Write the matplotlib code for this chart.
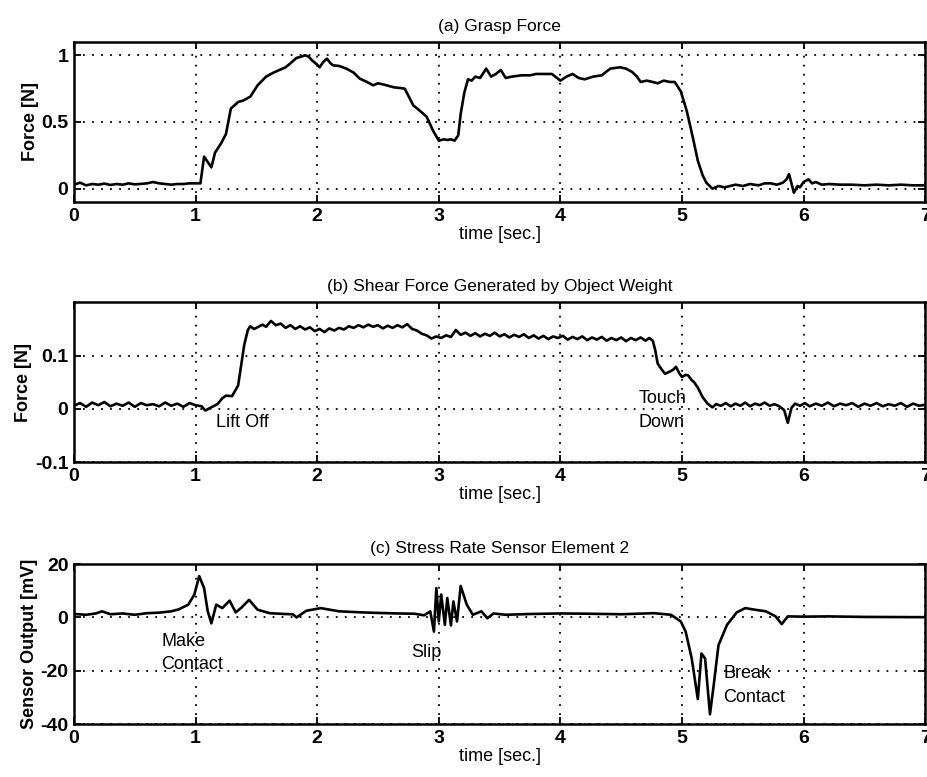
#Grasp / shear / stress-rate traces (3 stacked panels)

import numpy as np
import matplotlib
matplotlib.use('Agg')
import matplotlib.pyplot as plt

plt.rcParams['font.family'] = ['Liberation Sans', 'DejaVu Sans']

#Panel (a) grasp force [N]
t_a = [0.0, 0.05, 0.1, 0.15, 0.2, 0.25, 0.3, 0.35, 0.4, 0.45, 0.5, 0.55, 0.6, 0.65, 0.7, 0.75, 0.8, 0.85, 0.9, 0.95, 1.0, 1.04,
       1.07, 1.1, 1.13, 1.16, 1.21, 1.25, 1.29, 1.35, 1.39, 1.45, 1.51, 1.58, 1.64, 1.69, 1.74, 1.78, 1.83, 1.87, 1.9, 1.93, 1.96,
       2.0, 2.02, 2.05, 2.08, 2.11, 2.13, 2.18, 2.24, 2.3, 2.35, 2.41, 2.46, 2.5, 2.55, 2.63, 2.68, 2.72, 2.79, 2.85, 2.9, 2.95,
       3.0, 3.04, 3.07, 3.1, 3.13, 3.16, 3.18, 3.21, 3.24, 3.27, 3.3, 3.34, 3.39, 3.43, 3.47, 3.51, 3.55, 3.6, 3.68, 3.75, 3.8,
       3.87, 3.93, 4.0, 4.05, 4.1, 4.15, 4.2, 4.27, 4.34, 4.41, 4.49, 4.54, 4.59, 4.63, 4.66, 4.71, 4.76, 4.8, 4.85, 4.9, 4.94,
       4.99, 5.04, 5.09, 5.13, 5.17, 5.2, 5.25, 5.3, 5.35, 5.44, 5.5, 5.56, 5.63, 5.68, 5.73, 5.78, 5.83, 5.86, 5.88, 5.9, 5.92,
       5.95, 5.97, 6.0, 6.04, 6.07, 6.1, 6.15, 6.21, 6.3, 6.4, 6.5, 6.6, 6.7, 6.8, 6.9, 7.0]
f_a = [0.03, 0.045, 0.025, 0.035, 0.03, 0.038, 0.028, 0.035, 0.03, 0.04, 0.032, 0.036, 0.04, 0.05, 0.04, 0.035, 0.03, 0.035, 0.035, 0.04, 0.04, 0.04,
       0.24, 0.2, 0.16, 0.27, 0.34, 0.41, 0.6, 0.65, 0.66, 0.69, 0.775, 0.84, 0.87, 0.89, 0.91, 0.94, 0.98, 0.99, 1.0, 0.99, 0.96,
       0.93, 0.91, 0.95, 0.975, 0.94, 0.925, 0.92, 0.9, 0.87, 0.825, 0.8, 0.775, 0.79, 0.78, 0.76, 0.755, 0.75, 0.625, 0.58, 0.54, 0.44,
       0.36, 0.37, 0.365, 0.37, 0.36, 0.4, 0.56, 0.72, 0.82, 0.81, 0.84, 0.83, 0.9, 0.84, 0.86, 0.89, 0.83, 0.84, 0.85, 0.85, 0.86,
       0.86, 0.86, 0.81, 0.84, 0.86, 0.83, 0.82, 0.84, 0.85, 0.9, 0.91, 0.9, 0.875, 0.84, 0.8, 0.81, 0.8, 0.79, 0.81, 0.8, 0.8,
       0.73, 0.58, 0.38, 0.21, 0.1, 0.045, 0.0, 0.02, 0.01, 0.03, 0.02, 0.035, 0.025, 0.04, 0.04, 0.03, 0.045, 0.07, 0.11, 0.04, -0.03,
       0.02, 0.01, 0.05, 0.07, 0.04, 0.05, 0.03, 0.035, 0.03, 0.03, 0.025, 0.03, 0.025, 0.03, 0.025, 0.025]

#Panel (b) shear force [N]
t_b = [0.0, 0.05, 0.1, 0.15, 0.2, 0.25, 0.3, 0.35, 0.4, 0.45, 0.5, 0.55, 0.6, 0.65, 0.7, 0.75, 0.8, 0.85, 0.9, 0.95, 1.0, 1.05,
       1.08, 1.12, 1.18, 1.22, 1.25, 1.3, 1.35, 1.38, 1.4, 1.43, 1.45, 1.48, 1.5, 1.55, 1.58, 1.62, 1.66, 1.7, 1.74, 1.78, 1.82,
       1.86, 1.9, 1.94, 1.98, 2.02, 2.06, 2.1, 2.14, 2.18, 2.22, 2.26, 2.3, 2.34, 2.38, 2.42, 2.46, 2.5, 2.54, 2.58, 2.62, 2.66,
       2.7, 2.74, 2.78, 2.82, 2.86, 2.9, 2.94, 2.98, 3.02, 3.06, 3.1, 3.14, 3.18, 3.22, 3.26, 3.3, 3.34, 3.38, 3.42, 3.46, 3.5,
       3.54, 3.58, 3.62, 3.66, 3.7, 3.74, 3.78, 3.82, 3.86, 3.9, 3.94, 3.98, 4.02, 4.06, 4.1, 4.14, 4.18, 4.22, 4.26, 4.3, 4.34,
       4.38, 4.42, 4.46, 4.5, 4.54, 4.58, 4.62, 4.66, 4.7, 4.73, 4.76, 4.78, 4.8, 4.83, 4.86, 4.9, 4.93, 4.95, 4.98, 5.0, 5.03,
       5.05, 5.08, 5.1, 5.13, 5.17, 5.21, 5.25, 5.28, 5.32, 5.36, 5.4, 5.44, 5.48, 5.52, 5.56, 5.6, 5.64, 5.68, 5.72, 5.76, 5.8,
       5.84, 5.87, 5.9, 5.93, 5.97, 6.01, 6.05, 6.1, 6.15, 6.2, 6.25, 6.3, 6.35, 6.4, 6.45, 6.5, 6.55, 6.6, 6.65, 6.7, 6.75,
       6.8, 6.85, 6.9, 6.95, 7.0]
f_b = [0.006, 0.011, 0.004, 0.012, 0.007, 0.013, 0.005, 0.010, 0.006, 0.012, 0.004, 0.011, 0.007, 0.009, 0.005, 0.012, 0.006, 0.010, 0.004, 0.011, 0.007, 0.005,
       -0.003, 0.002, 0.009, 0.020, 0.025, 0.024, 0.044, 0.090, 0.120, 0.148, 0.155, 0.150, 0.152, 0.158, 0.154, 0.165, 0.157, 0.160, 0.152, 0.157, 0.150,
       0.155, 0.149, 0.153, 0.146, 0.150, 0.144, 0.151, 0.147, 0.152, 0.149, 0.155, 0.152, 0.157, 0.153, 0.158, 0.154, 0.157, 0.151, 0.156, 0.152, 0.157,
       0.153, 0.159, 0.150, 0.147, 0.141, 0.138, 0.132, 0.136, 0.133, 0.138, 0.135, 0.148, 0.139, 0.143, 0.137, 0.142, 0.136, 0.141, 0.137, 0.143, 0.136,
       0.140, 0.134, 0.139, 0.135, 0.140, 0.133, 0.138, 0.132, 0.137, 0.131, 0.136, 0.133, 0.137, 0.130, 0.135, 0.131, 0.136, 0.129, 0.134, 0.130, 0.135,
       0.128, 0.133, 0.129, 0.134, 0.127, 0.133, 0.129, 0.134, 0.128, 0.133, 0.128, 0.110, 0.085, 0.075, 0.066, 0.070, 0.074, 0.079, 0.066, 0.060, 0.064,
       0.063, 0.054, 0.050, 0.040, 0.022, 0.010, 0.003, 0.009, 0.006, 0.011, 0.005, 0.010, 0.006, 0.012, 0.005, 0.010, 0.007, 0.012, 0.006, 0.009, 0.005,
       -0.002, -0.026, 0.002, 0.010, 0.006, 0.011, 0.005, 0.010, 0.006, 0.012, 0.005, 0.010, 0.007, 0.011, 0.004, 0.010, 0.006, 0.011, 0.005, 0.009, 0.006,
       0.011, 0.004, 0.010, 0.006, 0.008]

#Panel (c) stress rate sensor output [mV]
t_c = [0.0, 0.1, 0.18, 0.23, 0.3, 0.4, 0.5, 0.6, 0.7, 0.8, 0.86, 0.94, 0.99, 1.03, 1.07, 1.1, 1.13, 1.17, 1.22, 1.28, 1.33,
       1.38, 1.44, 1.51, 1.61, 1.73, 1.8, 1.83, 1.91, 2.03, 2.18, 2.37, 2.5, 2.66, 2.8, 2.88, 2.93, 2.96, 2.98, 3.0, 3.02,
       3.05, 3.07, 3.1, 3.12, 3.15, 3.18, 3.23, 3.28, 3.35, 3.4, 3.45, 3.55, 3.75, 4.0, 4.23, 4.5, 4.77, 4.91, 4.99, 5.03,
       5.08, 5.13, 5.16, 5.19, 5.23, 5.26, 5.3, 5.37, 5.45, 5.52, 5.6, 5.69, 5.77, 5.82, 5.87, 6.0, 6.2, 6.5, 7.0]
v_c = [1.3, 1.0, 1.5, 2.3, 1.2, 1.5, 1.0, 1.6, 1.8, 2.3, 3.0, 4.8, 8.6, 15.5, 11.0, 2.3, -2.2, 4.8, 3.5, 6.3, 1.9,
       3.8, 6.6, 2.9, 1.6, 1.3, 1.2, 0.0, 2.5, 3.5, 2.3, 1.9, 1.7, 1.5, 1.4, 0.8, 2.3, -5.3, 11.0, -1.5, 8.6,
       -2.8, 7.3, -3.0, 6.0, -1.5, 11.8, 4.8, 1.0, 2.3, -0.3, 1.5, 1.0, 1.3, 1.5, 1.4, 1.2, 1.6, 1.0, -1.5, -5.3,
       -15.4, -30.6, -13.5, -15.4, -36.3, -25.6, -10.4, -2.8, 1.9, 3.5, 2.9, 2.3, 0.4, -2.5, 0.4, 0.3, 0.4, 0.2, 0.1]

titles = ['(a) Grasp Force', '(b) Shear Force Generated by Object Weight', '(c) Stress Rate Sensor Element 2']
ylabels = ['Force [N]', 'Force [N]', 'Sensor Output [mV]']
ylims = [(-0.1, 1.1), (-0.1, 0.2), (-40, 20)]
yticks = [[0, 0.5, 1], [-0.1, 0, 0.1], [-40, -20, 0, 20]]
yticklabels = [['0', '0.5', '1'], ['-0.1', '0', '0.1'], ['-40', '-20', '0', '20']]

fig = plt.figure(figsize=(9.28, 7.77), dpi=100)
bottoms = [0.740, 0.405, 0.068]
series = [(t_a, f_a), (t_b, f_b), (t_c, v_c)]

for i in range(3):
    ax = fig.add_axes([0.0797, bottoms[i], 0.9173, 0.206])
    ax.plot(series[i][0], series[i][1], color='black', lw=1.9)
    ax.set_xlim(0, 7)
    ax.set_ylim(*ylims[i])
    ax.set_xticks(range(8))
    ax.set_xticklabels([str(k) for k in range(8)], fontsize=14, fontweight='bold')
    ax.set_yticks(yticks[i])
    ax.set_yticklabels(yticklabels[i], fontsize=14, fontweight='bold')
    ax.grid(True, color='black', linestyle=(0, (1, 4)), linewidth=1.3)
    ax.tick_params(direction='in', length=5, width=1.3, top=True, right=True, pad=4)
    for s in ax.spines.values():
        s.set_linewidth(1.8)
    ax.set_title(titles[i], fontsize=12.5, pad=8)
    ax.set_xlabel('time [sec.]', fontsize=13, labelpad=1)
    ax.set_ylabel(ylabels[i], fontsize=13, fontweight='bold', labelpad=2)

    #annotations
    if i == 1:
        ax.text(1.17, -0.026, 'Lift Off', fontsize=13, va='center')
        ax.text(4.64, 0.019, 'Touch', fontsize=13, va='center')
        ax.text(4.64, -0.026, 'Down', fontsize=13, va='center')
    if i == 2:
        ax.text(0.72, -9, 'Make', fontsize=13, va='center')
        ax.text(0.72, -17.5, 'Contact', fontsize=13, va='center')
        ax.text(2.77, -13, 'Slip', fontsize=13, va='center')
        ax.text(5.34, -21, 'Break', fontsize=13, va='center')
        ax.text(5.34, -30, 'Contact', fontsize=13, va='center')

plt.savefig('out.png', dpi=100)
